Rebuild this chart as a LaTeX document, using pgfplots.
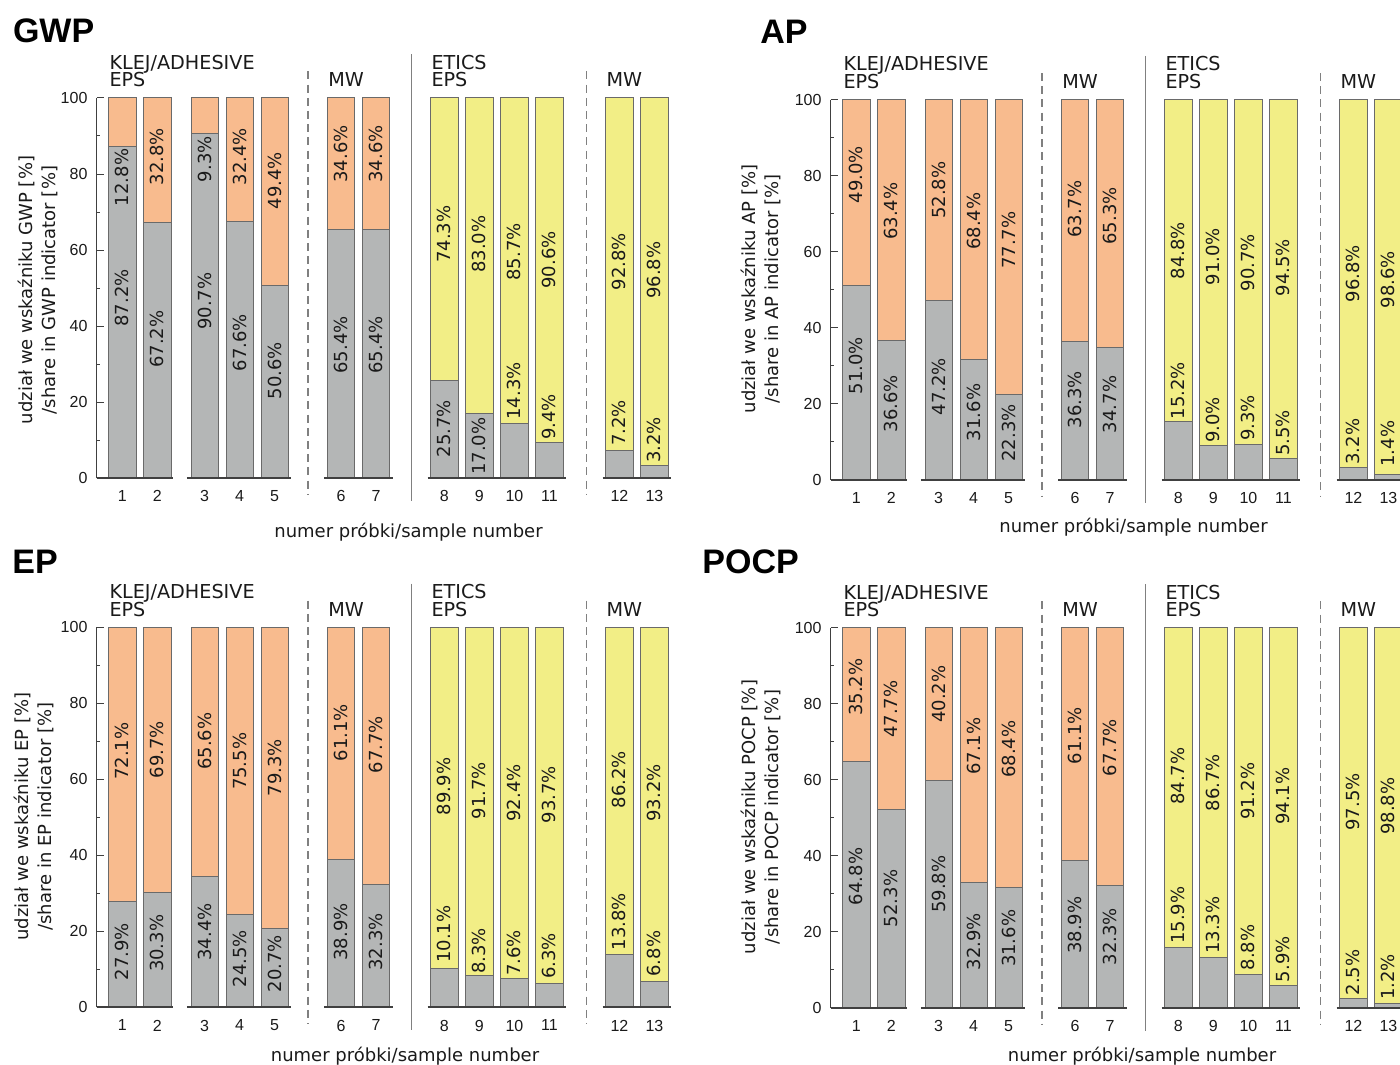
\documentclass[border=0pt]{standalone}
\usepackage{pgfplots}
\pgfplotsset{compat=1.18}
\usepackage{pgfplotstable}
\usepackage{fontspec}
\setmainfont{DejaVu Sans}
\newfontfamily\tickfont{Liberation Sans}
\newfontfamily\titlefont{Liberation Sans}
\definecolor{gry}{HTML}{B4B6B6}
\definecolor{orng}{HTML}{F8BB8E}
\definecolor{yel}{HTML}{F2EE86}
\definecolor{outl}{HTML}{6A6A6A}
\definecolor{axc}{HTML}{404040}
\definecolor{txt}{HTML}{1A1A1A}
\definecolor{sepc}{HTML}{808080}

\pgfplotstableread{
x g t gy ty
0 87.2 12.8 47.4 79.1
1 67.2 32.8 36.5 84.6
2.35 90.7 9.3 46.5 83.9
3.35 67.6 32.4 35.6 84.6
4.35 50.6 49.4 28.2 78.2
6.25 65.4 34.6 35.0 85.3
7.25 65.4 34.6 35.0 85.3
9.2 25.7 74.3 13.0 64.2
10.2 17.0 83.0 8.4 61.5
11.2 14.3 85.7 22.9 59.5
12.2 9.4 90.6 16.1 57.4
14.2 7.2 92.8 14.5 56.9
15.2 3.2 96.8 10.0 54.7
}\GWP

\pgfplotstableread{
x g t gy ty
0 51.0 49.0 30.0 80.3
1 36.6 63.4 20.0 70.7
2.35 47.2 52.8 24.5 76.2
3.35 31.6 68.4 17.7 68.0
4.35 22.3 77.7 12.3 63.0
6.25 36.3 63.7 21.1 71.2
7.25 34.7 65.3 19.8 69.4
9.2 15.2 84.8 23.4 60.3
10.2 9.0 91.0 15.7 58.7
11.2 9.3 90.7 16.3 57.1
12.2 5.5 94.5 12.3 55.8
14.2 3.2 96.8 10.0 54.2
15.2 1.4 98.6 9.5 52.6
}\AP

\pgfplotstableread{
x g t gy ty
0 27.9 72.1 14.6 67.4
1 30.3 69.7 16.8 67.8
2.35 34.4 65.6 19.8 70.0
3.35 24.5 75.5 12.8 64.7
4.35 20.7 79.3 11.5 63.0
6.25 38.9 61.1 19.8 72.2
7.25 32.3 67.7 17.2 69.1
9.2 10.1 89.9 19.2 58.1
10.2 8.3 91.7 14.8 57.0
11.2 7.6 92.4 14.3 56.4
12.2 6.3 93.7 13.5 55.9
14.2 13.8 86.2 22.5 59.9
15.2 6.8 93.2 14.1 56.4
}\EP

\pgfplotstableread{
x g t gy ty
0 64.8 35.2 34.6 84.4
1 52.3 47.7 28.8 78.6
2.35 59.8 40.2 32.6 82.6
3.35 32.9 67.1 17.4 68.9
4.35 31.6 68.4 18.3 68.1
6.25 38.9 61.1 21.8 71.6
7.25 32.3 67.7 18.7 68.5
9.2 15.9 84.7 24.4 61.0
10.2 13.3 86.7 21.8 59.3
11.2 8.8 91.2 15.9 57.0
12.2 5.9 94.1 12.8 55.7
14.2 2.5 97.5 9.3 54.2
15.2 1.2 98.8 8.2 53.1
}\POCP

\pgfplotsset{
  panel/.style={
    x=17.5pt, y=1.9pt,
    xmin=-0.74, xmax=15.9, ymin=0, ymax=100,
    anchor=south west,
    clip=false,
    axis y line*=left,
    axis x line*=bottom,
    x axis line style={draw=none},
    y axis line style={draw=axc, line width=0.6pt},
    tick align=inside,
    ytick={0,20,...,100},
    minor ytick={10,30,...,90},
    major tick length=3.8pt,
    minor tick length=1.8pt,
    tick style={draw=axc, line width=0.5pt},
    xtick style={draw=none},
    xtick={0,1,2.35,3.35,4.35,6.25,7.25,9.2,10.2,11.2,12.2,14.2,15.2},
    xticklabels={1,2,3,4,5,6,7,8,9,10,11,12,13},
    xticklabel style={font=\tickfont\fontsize{8}{9}\selectfont, text=txt, yshift=-2.8pt},
    yticklabel style={font=\tickfont\fontsize{8}{9}\selectfont, text=txt, xshift=-1pt},
    yticklabel={\pgfmathprintnumber{\tick}},
    /pgf/number format/assume math mode=true,
  },
  barst/.style={ybar, bar width=0.78, bar shift=0pt, draw=outl, line width=0.5pt},
  lbl/.style={only marks, mark=text, text mark={},
    point meta=explicit,
    nodes near coords={\pgfmathprintnumber[fixed, fixed zerofill, precision=1]{\pgfplotspointmeta}\%},
    every node near coord/.append style={rotate=90, anchor=center, inner sep=0pt,
      font=\fontsize{9}{10}\selectfont, text=txt}},
}

\newcommand{\hdr}{\fontsize{9.6}{11}\selectfont}

\newcommand{\panel}[3]{%
\begin{axis}[panel, at={(#2,#3)}]
\addplot[barst, fill=orng, restrict x to domain=-1:8] table[x=x, y expr={min(100,\thisrow{g}+\thisrow{t})}] {#1};
\addplot[barst, fill=yel, restrict x to domain=8:16] table[x=x, y expr={min(100,\thisrow{g}+\thisrow{t})}] {#1};
\addplot[barst, fill=gry] table[x=x, y=g] {#1};
\addplot[lbl] table[x=x, y=gy, meta=g] {#1};
\addplot[lbl] table[x=x, y=ty, meta=t] {#1};
\draw[axc, line width=0.8pt] (axis cs:-0.74,0) -- (axis cs:1.44,0);
\draw[axc, line width=0.8pt] (axis cs:1.84,0) -- (axis cs:4.83,0);
\draw[axc, line width=0.8pt] (axis cs:5.77,0) -- (axis cs:7.73,0);
\draw[axc, line width=0.8pt] (axis cs:8.72,0) -- (axis cs:12.68,0);
\draw[axc, line width=0.8pt] (axis cs:13.72,0) -- (axis cs:15.68,0);
\draw[sepc, line width=0.6pt, dash pattern=on 4pt off 2.6pt] (axis cs:5.3,107) -- (axis cs:5.3,-4.5);
\draw[sepc, line width=0.6pt, dash pattern=on 4pt off 2.6pt] (axis cs:13.25,107) -- (axis cs:13.25,-4.5);
\draw[sepc, line width=0.6pt] (axis cs:8.25,111.5) -- (axis cs:8.25,-6);
\node[anchor=base west, inner sep=0pt, font=\hdr, text=txt] at (axis cs:-0.38,107.6) {KLEJ/ADHESIVE};
\node[anchor=base west, inner sep=0pt, font=\hdr, text=txt] at (axis cs:-0.38,102.9) {EPS};
\node[anchor=base west, inner sep=0pt, font=\hdr, text=txt] at (axis cs:5.87,102.9) {MW};
\node[anchor=base west, inner sep=0pt, font=\hdr, text=txt] at (axis cs:8.82,107.6) {ETICS};
\node[anchor=base west, inner sep=0pt, font=\hdr, text=txt] at (axis cs:8.82,102.9) {EPS};
\node[anchor=base west, inner sep=0pt, font=\hdr, text=txt] at (axis cs:13.82,102.9) {MW};
\end{axis}}

\begin{document}
\begin{tikzpicture}
\path[use as bounding box] (0pt,0pt) rectangle (700pt,-532pt);
\clip (0pt,0pt) rectangle (700pt,-532pt);

\panel{\GWP}{48.25pt}{-239pt}
\panel{\AP}{415.25pt}{-239.85pt}
\panel{\EP}{48.25pt}{-503.6pt}
\panel{\POCP}{415.25pt}{-503.95pt}

\tikzset{ttl/.style={anchor=base west, inner sep=0pt, text=black, font=\titlefont\bfseries\fontsize{17}{19}\selectfont},
  ylab/.style={rotate=90, align=center, inner sep=0pt, text=txt, font=\fontsize{9}{11.5}\selectfont},
  xlab/.style={anchor=base, inner sep=0pt, text=txt, font=\fontsize{9}{11}\selectfont}}

\node[ttl] at (6.3pt,-21.1pt) {GWP};
\node[ttl] at (380pt,-21.6pt) {AP};
\node[ttl] at (6.0pt,-286.6pt) {EP};
\node[ttl] at (351pt,-286.6pt) {POCP};

\node[ylab] at (19pt,-145pt) {udział we wskaźniku GWP [\%]\\/share in GWP indicator [\%]};
\node[ylab] at (380.25pt,-144.5pt) {udział we wskaźniku AP [\%]\\/share in AP indicator [\%]};
\node[ylab] at (17pt,-408.3pt) {udział we wskaźniku EP [\%]\\/share in EP indicator [\%]};
\node[ylab] at (380.25pt,-408.5pt) {udział we wskaźniku POCP [\%]\\/share in POCP indicator [\%]};

\node[xlab] at (204.25pt,-268.5pt) {numer próbki/sample number};
\node[xlab] at (566.75pt,-266pt) {numer próbki/sample number};
\node[xlab] at (202.5pt,-530.5pt) {numer próbki/sample number};
\node[xlab] at (571pt,-530.5pt) {numer próbki/sample number};
\end{tikzpicture}
\end{document}
